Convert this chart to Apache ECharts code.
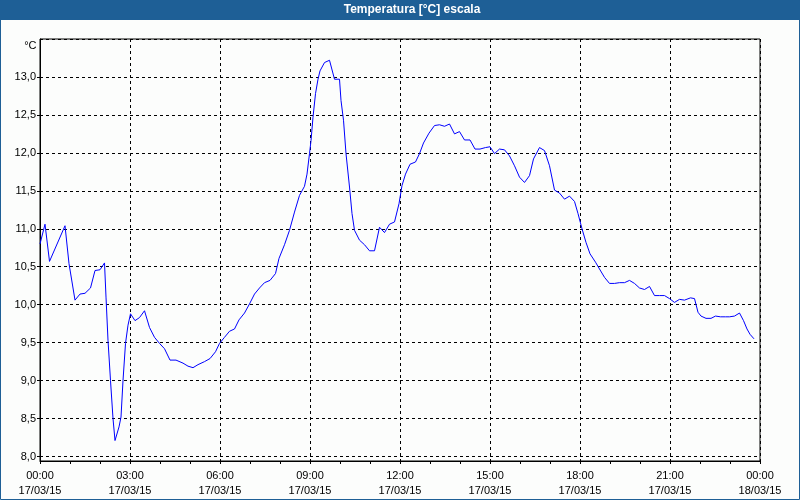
<!DOCTYPE html>
<html>
<head>
<meta charset="utf-8">
<script src="https://cdn.jsdelivr.net/npm/echarts@6/dist/echarts.min.js"></script>
<style>
html,body{margin:0;padding:0;background:#fcfdfc;}
#chart{width:800px;height:500px;}
</style>
</head>
<body>
<div id="chart"></div>
<script>
// minutes since 17/03/15 00:00
const minutes = [0,10,19,50,58,70,80,90,101,110,120,129,132,136,141,146,150,158,162,166,171,176,181,190,199,209,219,229,239,249,260,272,286,296,306,316,329,340,351,359,369,379,389,398,409,419,429,439,449,460,471,478,489,499,509,519,529,534,539,542,546,551,556,560,569,579,589,599,602,607,612,619,624,629,639,649,659,669,679,689,699,709,718,724,731,740,751,759,767,778,789,799,809,819,829,839,849,860,870,880,891,900,909,919,929,939,949,959,969,979,987,999,1009,1019,1029,1039,1049,1059,1069,1076,1084,1092,1100,1111,1119,1129,1139,1149,1159,1169,1179,1189,1199,1209,1219,1229,1239,1249,1259,1269,1279,1289,1301,1309,1316,1322,1332,1342,1351,1361,1371,1379,1389,1399,1407,1414,1420,1428];
const temps = [10.80,11.06,10.57,11.04,10.54,10.06,10.14,10.15,10.22,10.45,10.46,10.55,10.10,9.53,9.00,8.50,8.21,8.39,8.52,9.00,9.49,9.73,9.88,9.79,9.83,9.92,9.70,9.57,9.49,9.42,9.27,9.27,9.23,9.19,9.17,9.21,9.25,9.29,9.38,9.49,9.57,9.65,9.68,9.80,9.89,10.01,10.14,10.22,10.29,10.32,10.41,10.61,10.79,10.98,11.22,11.44,11.56,11.72,11.99,12.16,12.47,12.78,12.97,13.08,13.19,13.22,12.97,12.97,12.69,12.43,11.99,11.55,11.20,10.98,10.85,10.79,10.71,10.71,11.02,10.95,11.06,11.09,11.33,11.57,11.72,11.85,11.88,11.99,12.13,12.26,12.36,12.37,12.35,12.38,12.25,12.28,12.17,12.17,12.05,12.05,12.07,12.08,11.99,12.05,12.04,11.96,11.83,11.68,11.61,11.70,11.92,12.07,12.03,11.83,11.51,11.47,11.39,11.43,11.36,11.20,11.00,10.82,10.67,10.56,10.47,10.36,10.28,10.28,10.29,10.29,10.32,10.28,10.22,10.20,10.24,10.12,10.12,10.12,10.08,10.03,10.07,10.06,10.09,10.08,9.90,9.85,9.82,9.82,9.85,9.84,9.84,9.84,9.85,9.89,9.79,9.68,9.61,9.55];
const xTickLabels = ['00:00\n17/03/15','03:00\n17/03/15','06:00\n17/03/15','09:00\n17/03/15','12:00\n17/03/15','15:00\n17/03/15','18:00\n17/03/15','21:00\n17/03/15','00:00\n18/03/15'];
const titleText = 'Temperatura [°C] escala';
const unitText = '°C';

const FONT = 'Liberation Sans';
const points = minutes.map((m, i) => [m, temps[i]]);
const chart = echarts.init(document.getElementById('chart'), null, {renderer: 'canvas'});
const dash = {color: '#000', width: 1, type: [3, 3]};

chart.setOption({
  backgroundColor: '#fcfdfc',
  animation: false,
  graphic: [
    {type: 'rect', shape: {x: 0, y: 0, width: 800, height: 20}, style: {fill: '#1e5f96'}, z: 10},
    {type: 'rect', shape: {x: 0.5, y: 0.5, width: 799, height: 499}, style: {fill: 'none', stroke: '#1e5f96', lineWidth: 1}, z: 10},
    {type: 'text', x: 412, y: 10, style: {text: titleText, fill: '#fff', font: 'bold 12px "' + FONT + '"', textAlign: 'center', textVerticalAlign: 'middle'}, z: 11},
    {type: 'text', x: 36.5, y: 46, style: {text: unitText, fill: '#000', font: '11px "' + FONT + '"', textAlign: 'right', textVerticalAlign: 'middle'}, z: 11}
  ],
  grid: [
    {left: 40, right: 40, top: 39, bottom: 43.5, show: false},
    {left: 40, right: 40, top: 39, bottom: 39, show: true, borderColor: '#000', borderWidth: 1, backgroundColor: 'transparent'}
  ],
  xAxis: [
    {gridIndex: 0, type: 'value', min: 0, max: 1440, show: false},
    {gridIndex: 1, type: 'value', min: 0, max: 1440, interval: 180,
      axisLine: {show: true, lineStyle: {color: '#000', width: 1}},
      axisTick: {show: true, inside: false, length: 3, lineStyle: {color: '#000'}},
      minorTick: {show: true, splitNumber: 3, length: 3, lineStyle: {color: '#000'}},
      splitLine: {show: true, lineStyle: dash},
      axisLabel: {margin: 8, color: '#000', fontFamily: FONT, fontSize: 11, lineHeight: 14.5,
        formatter: (v) => xTickLabels[Math.round(v / 180)]}
    }
  ],
  yAxis: [
    {gridIndex: 0, type: 'value', min: 8, max: 13.5, interval: 0.5,
      axisLine: {show: false},
      axisTick: {show: true, inside: false, length: 3, lineStyle: {color: '#000'}},
      splitLine: {show: true, lineStyle: dash},
      axisLabel: {margin: 4, color: '#000', fontFamily: FONT, fontSize: 11, showMaxLabel: false,
        formatter: (v) => v.toFixed(1).replace('.', ',')}
    },
    {gridIndex: 1, type: 'value', min: 0, max: 1,
      axisLine: {show: true, lineStyle: {color: '#000', width: 1}},
      axisTick: {show: false}, axisLabel: {show: false}, splitLine: {show: false}
    }
  ],
  series: [{
    type: 'line', xAxisIndex: 0, yAxisIndex: 0, data: points,
    showSymbol: false, symbol: 'none', smooth: false,
    lineStyle: {color: '#0000ff', width: 1}, z: 5
  }]
});
</script>
</body>
</html>
